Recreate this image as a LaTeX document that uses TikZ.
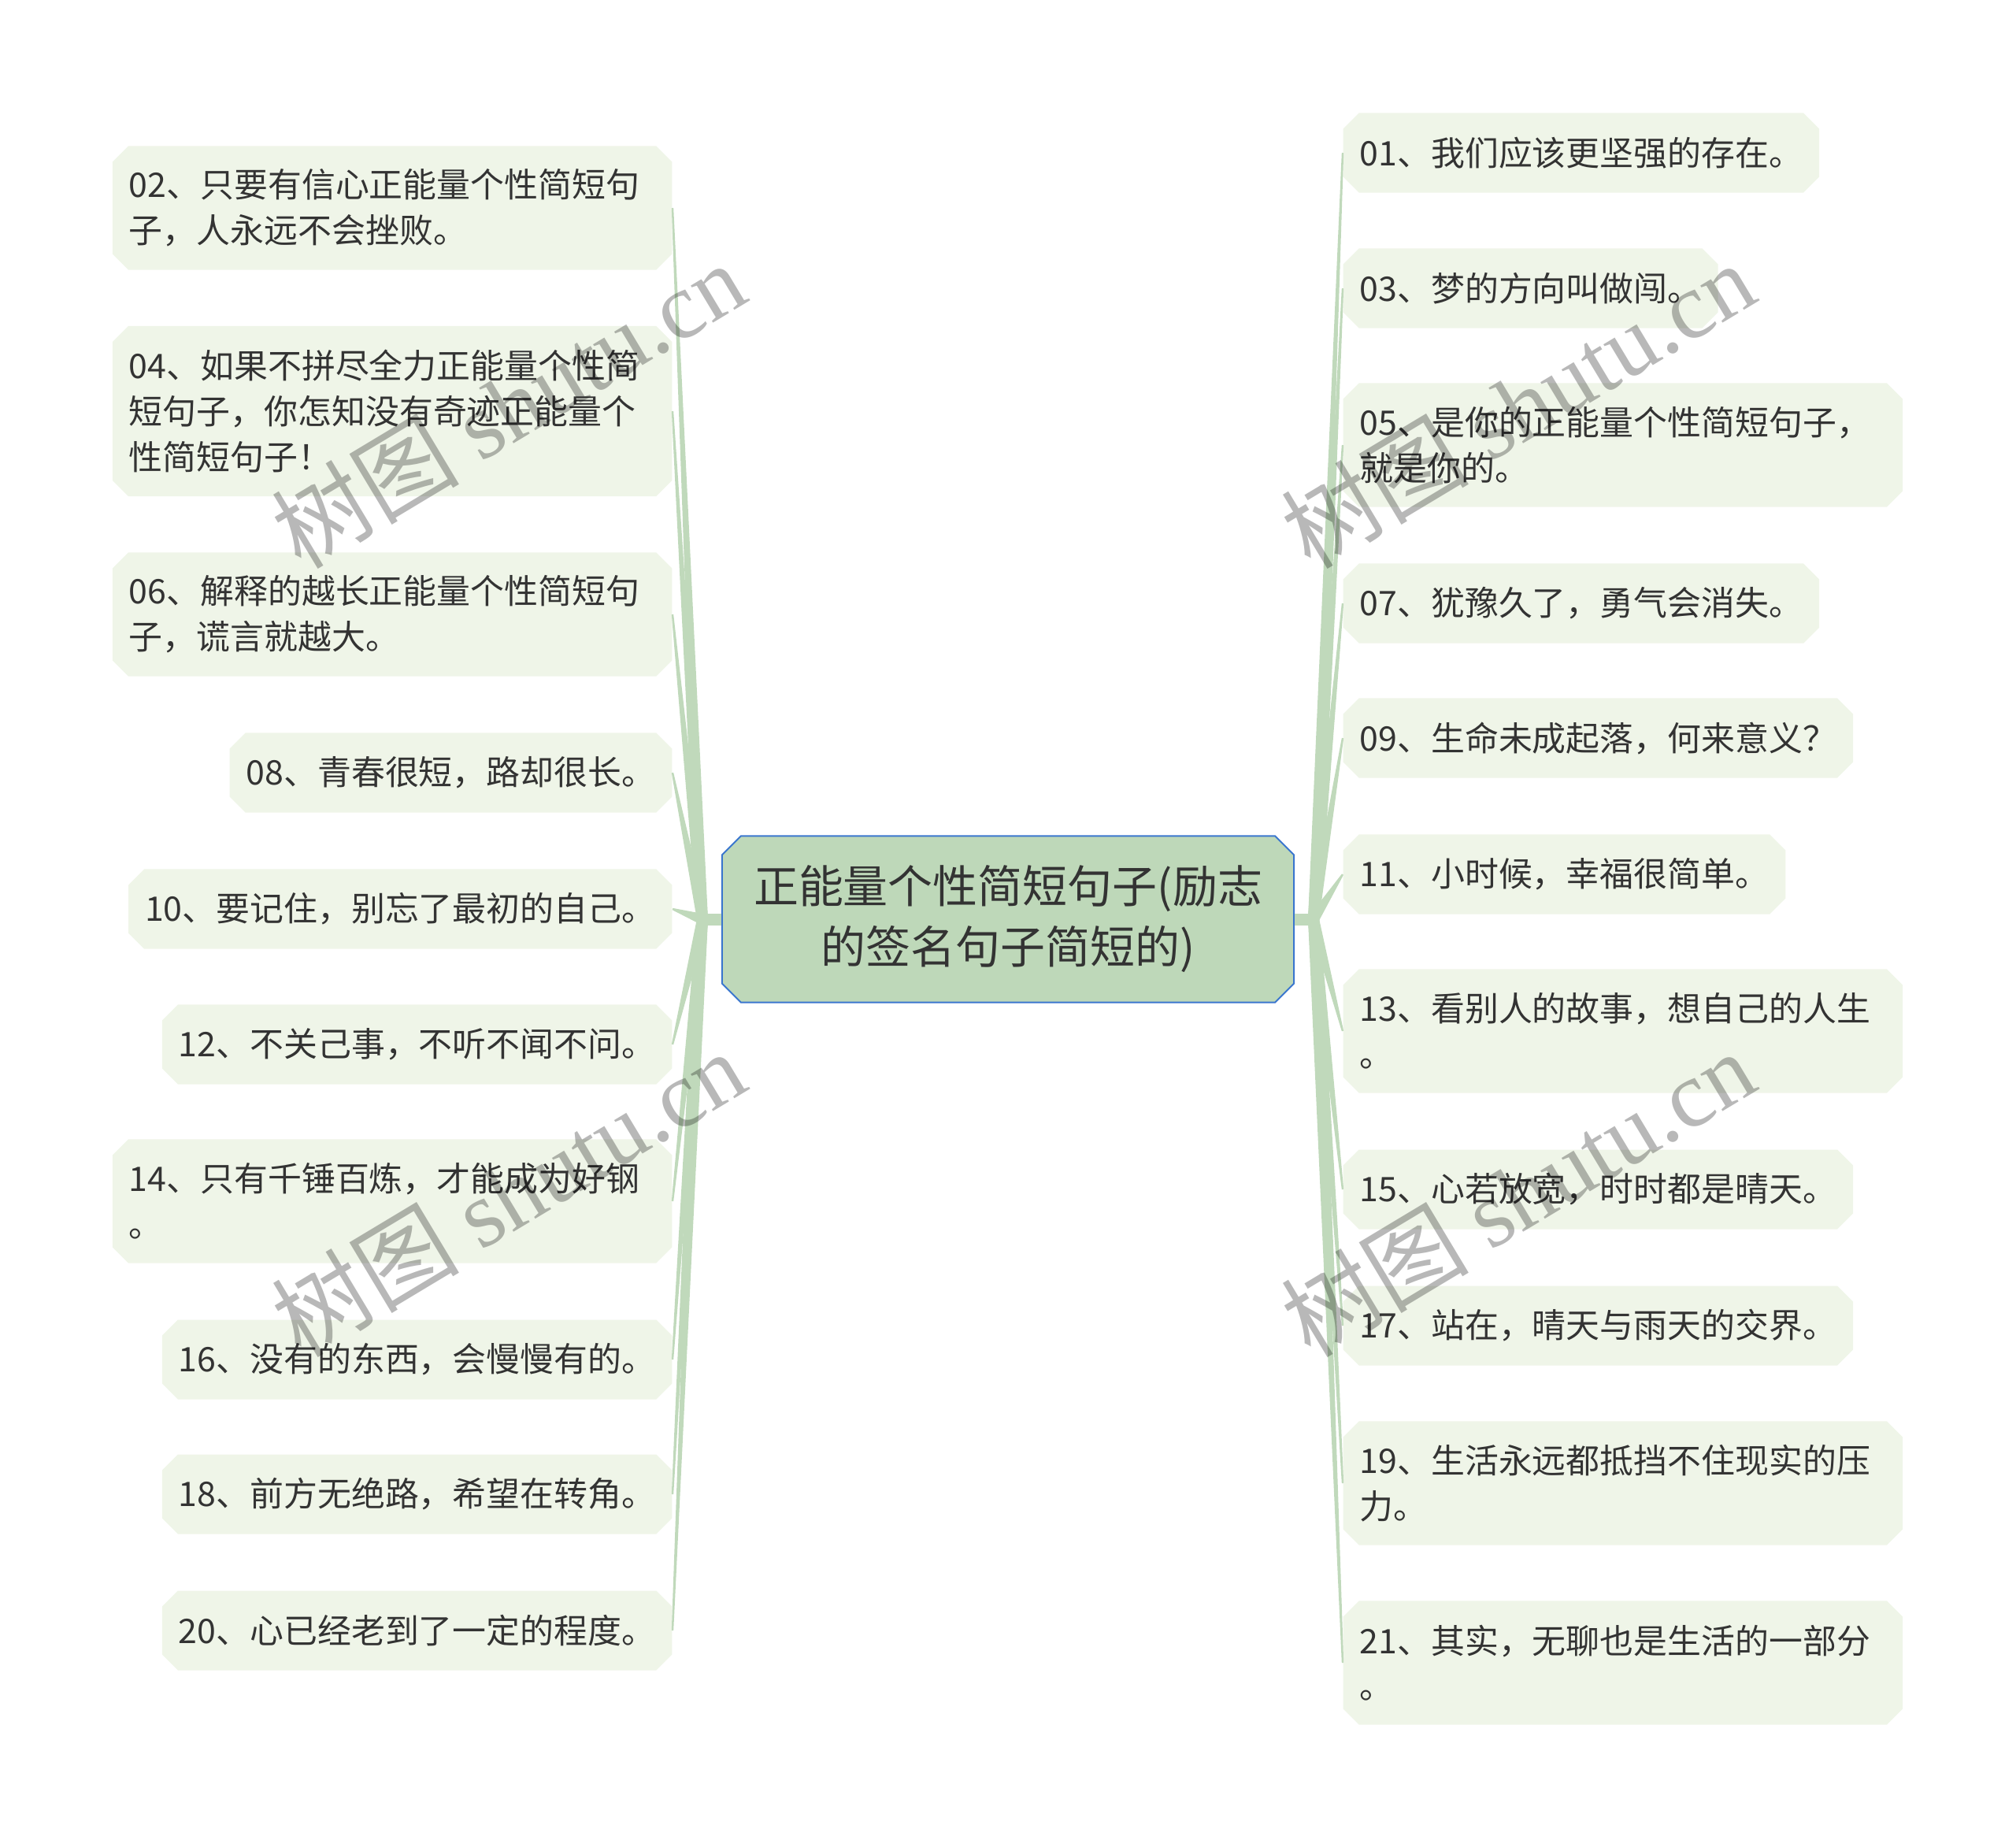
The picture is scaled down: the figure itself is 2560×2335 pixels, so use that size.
\documentclass[tikz,border=0pt]{standalone}
\usepackage{fontspec}
\setmainfont{Noto Sans CJK SC}
\newfontfamily\wmfont{Liberation Serif}
\usetikzlibrary{calc,shapes.misc}
\definecolor{leafbg}{RGB}{239,245,232}
\definecolor{rootbg}{RGB}{190,216,185}
\definecolor{rootline}{RGB}{58,118,206}
\definecolor{branchgreen}{RGB}{192,217,187}
\definecolor{inktext}{RGB}{51,51,51}

\begin{document}
\begin{tikzpicture}[x=.01cm,y=-.01cm,
  leaf/.style={chamfered rectangle,chamfered rectangle xsep=.1cm,chamfered rectangle ysep=.1cm,fill=leafbg,text=inktext,align=left,inner xsep=.11cm,inner ysep=0pt,minimum height=1.01cm,font=\fontsize{12.2}{16.4}\selectfont},
  wide/.style={leaf,text width=6.68cm,minimum height=#1},
  root/.style={chamfered rectangle,chamfered rectangle xsep=.12cm,chamfered rectangle ysep=.12cm,fill=rootbg,draw=rootline,line width=.02cm,text=inktext,align=center,minimum width=7.26cm,minimum height=2.11cm,font=\fontsize{16.2}{21.9}\selectfont},
  branch/.style={fill=branchgreen},
  wm/.style={rotate=31,text=black,text opacity=.28,font=\fontsize{34}{34}\selectfont}]
\useasboundingbox (0,0) rectangle (2560,2335);
\node[root] (c) at (1280,1167) {正能量个性简短句子(励志\\的签名句子简短的)};
\coordinate (hl) at (892,1167);
\coordinate (hr) at (1668,1167);
\node[wide=1.57cm,anchor=east] (n02) at (854,264) {02、只要有信心正能量个性简短句\\子，人永远不会挫败。};
\node[wide=2.16cm,anchor=east] (n04) at (854,522) {04、如果不拼尽全力正能量个性简\\短句子，你怎知没有奇迹正能量个\\性简短句子！};
\node[wide=1.57cm,anchor=east] (n06) at (854,780) {06、解释的越长正能量个性简短句\\子，谎言就越大。};
\node[leaf,anchor=east] (n08) at (854,981) {08、青春很短，路却很长。};
\node[leaf,anchor=east] (n10) at (854,1154) {10、要记住，别忘了最初的自己。};
\node[leaf,anchor=east] (n12) at (854,1326) {12、不关己事，不听不闻不问。};
\node[wide=1.57cm,anchor=east] (n14) at (854,1525) {14、只有千锤百炼，才能成为好钢\\。};
\node[leaf,anchor=east] (n16) at (854,1726) {16、没有的东西，会慢慢有的。};
\node[leaf,anchor=east] (n18) at (854,1897) {18、前方无绝路，希望在转角。};
\node[leaf,anchor=east] (n20) at (854,2070) {20、心已经老到了一定的程度。};
\node[leaf,anchor=west] (n01) at (1705,194) {01、我们应该更坚强的存在。};
\node[leaf,anchor=west] (n03) at (1705,366) {03、梦的方向叫做闯。};
\node[wide=1.57cm,anchor=west] (n05) at (1705,565) {05、是你的正能量个性简短句子，\\就是你的。};
\node[leaf,anchor=west] (n07) at (1705,766) {07、犹豫久了，勇气会消失。};
\node[leaf,anchor=west] (n09) at (1705,937) {09、生命未成起落，何来意义？};
\node[leaf,anchor=west] (n11) at (1705,1110) {11、小时候，幸福很简单。};
\node[wide=1.57cm,anchor=west] (n13) at (1705,1309) {13、看别人的故事，想自己的人生\\。};
\node[leaf,anchor=west] (n15) at (1705,1510) {15、心若放宽，时时都是晴天。};
\node[leaf,anchor=west] (n17) at (1705,1683) {17、站在，晴天与雨天的交界。};
\node[wide=1.57cm,anchor=west] (n19) at (1705,1883) {19、生活永远都抵挡不住现实的压\\力。};
\node[wide=1.57cm,anchor=west] (n21) at (1705,2111) {21、其实，无聊也是生活的一部分\\。};
\draw[branchgreen,line width=.15cm] (hl) -- (c.west);
\draw[branchgreen,line width=.15cm] (c.east) -- (hr);
\foreach \i in {02,04,06,08,10,12,14,16,18,20}
  \fill[branch] ($(hl)!.07cm!90:(n\i.east)$) -- ($(n\i.east)!.012cm!-90:(hl)$) -- ($(n\i.east)!.012cm!90:(hl)$) -- ($(hl)!.07cm!-90:(n\i.east)$) -- cycle;
\foreach \i in {01,03,05,07,09,11,13,15,17,19,21}
  \fill[branch] ($(hr)!.07cm!90:(n\i.west)$) -- ($(n\i.west)!.012cm!-90:(hr)$) -- ($(n\i.west)!.012cm!90:(hr)$) -- ($(hr)!.07cm!-90:(n\i.west)$) -- cycle;
\node[wm] (wm1) at (645,514) {树图 {\wmfont shutu.cn}};
\node[wm] (wm2) at (1927,514) {树图 {\wmfont shutu.cn}};
\node[wm] (wm3) at (645,1515) {树图 {\wmfont shutu.cn}};
\node[wm] (wm4) at (1927,1515) {树图 {\wmfont shutu.cn}};
\end{tikzpicture}
\end{document}
